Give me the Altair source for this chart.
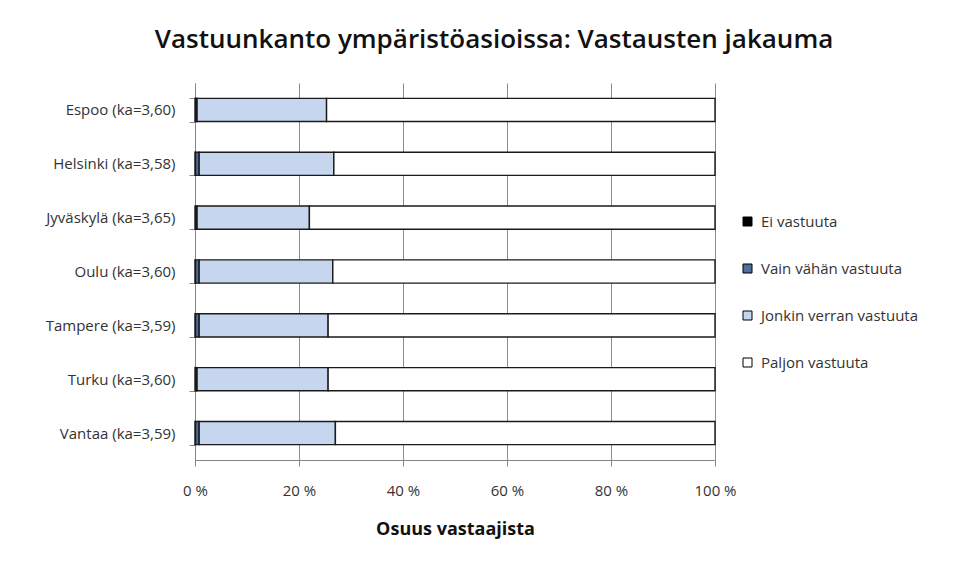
import altair as alt
import pandas as pd

cities = ["Espoo (ka=3,60)", "Helsinki (ka=3,58)", "Jyväskylä (ka=3,65)", "Oulu (ka=3,60)",
          "Tampere (ka=3,59)", "Turku (ka=3,60)", "Vantaa (ka=3,59)"]
categories = ["Ei vastuuta", "Vain vähän vastuuta", "Jonkin verran vastuuta", "Paljon vastuuta"]
ei = [0.2, 0.1, 0.2, 0.1, 0.1, 0.2, 0.1]
vain = [0.2, 0.7, 0.2, 0.7, 0.7, 0.2, 0.7]
jonkin = [24.9, 25.9, 21.6, 25.7, 24.8, 25.2, 26.2]
paljon = [74.7, 73.3, 78.0, 73.5, 74.4, 74.4, 73.0]
colors = ["#000000", "#4f6d9e", "#c6d6ee", "#ffffff"]
ticks = [0, 20, 40, 60, 80, 100]

rows = []
for series, cat in zip([ei, vain, jonkin, paljon], categories):
    for c, v in zip(cities, series):
        rows.append({"city": c, "cat": cat, "value": v, "order": categories.index(cat)})
df = pd.DataFrame(rows)

FONT = "Open Sans"

chart = alt.Chart(df).mark_bar(stroke="#1a1a1a", strokeWidth=1.4).encode(
    y=alt.Y("city:N", sort=cities,
            scale=alt.Scale(paddingInner=0.57, paddingOuter=0.285),
            axis=alt.Axis(title=None, tickBand="extent", tickSize=6, tickColor="#868686",
                          domainColor="#868686", labelPadding=14, labelFontSize=15,
                          labelColor="#333333", labelFont=FONT, grid=False)),
    x=alt.X("value:Q", stack="zero",
            scale=alt.Scale(domain=[0, 100], nice=False),
            axis=alt.Axis(title="Osuus vastaajista", values=ticks,
                          labelExpr="datum.value + ' %'", labelFlush=False,
                          tickSize=6, tickColor="#868686",
                          domainColor="#868686", gridColor="#8c8c8c", grid=True,
                          labelPadding=17, labelFontSize=15, labelColor="#333333",
                          labelFont=FONT, titleFont=FONT, titleFontSize=18,
                          titleFontWeight="bold", titleColor="#111111", titlePadding=22)),
    color=alt.Color("cat:N", sort=categories,
                    scale=alt.Scale(domain=categories, range=colors),
                    legend=alt.Legend(title=None, orient="none", legendX=545, legendY=131,
                                      symbolType="square", symbolSize=81,
                                      symbolStrokeColor="#000000", symbolStrokeWidth=1,
                                      labelFontSize=15, labelFont=FONT, labelColor="#333333",
                                      rowPadding=31, labelOffset=6)),
    order=alt.Order("order:Q", sort="ascending"),
).properties(
    width=520, height=377,
    title=alt.TitleParams("Vastuunkanto ympäristöasioissa: Vastausten jakauma",
                          font=FONT, fontSize=26, fontWeight=600, color="#111111",
                          anchor="middle", dx=39, offset=23),
    padding={"left": 187, "top": 75, "right": 248, "bottom": 95},
    autosize=alt.AutoSizeParams(type="none"),
).configure_view(stroke=None)

chart.save("out.html", embed_options={"renderer": "svg", "actions": False})
